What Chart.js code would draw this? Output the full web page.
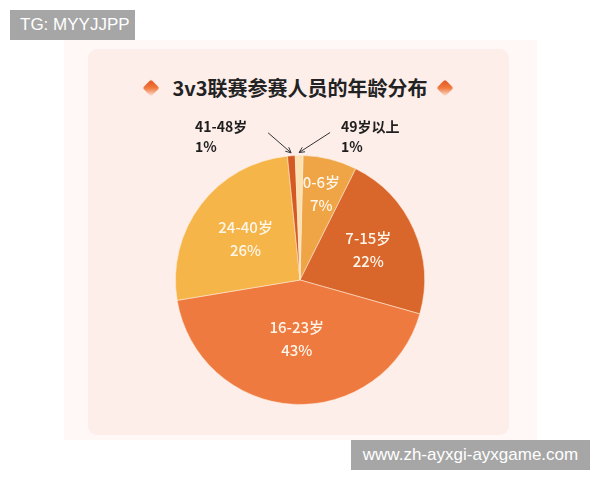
<!DOCTYPE html>
<html>
<head>
<meta charset="utf-8">
<script src="https://cdn.jsdelivr.net/npm/chart.js@4.4.1/dist/chart.umd.min.js"></script>
<style>
  html,body{margin:0;padding:0;background:#fff;width:600px;height:480px;overflow:hidden;font-family:"Noto Sans CJK SC","Noto Sans",sans-serif;}
  #outer{position:absolute;left:64px;top:40px;width:473px;height:400px;background:#fff8f6;}
  #inner{position:absolute;left:88px;top:49px;width:421px;height:386px;background:#fdeeea;border-radius:9px;}
  #title{position:absolute;left:0;top:73px;width:600px;text-align:center;font-size:20px;font-weight:700;color:#222;line-height:30px;}
  .dia{position:absolute;top:82px;width:12px;height:12px;transform:rotate(45deg);border-radius:2px;
       background:linear-gradient(135deg,#e4501a 0%,#f07a3e 50%,rgba(250,170,140,0.15) 100%);filter:blur(0.7px);}
  #c{position:absolute;left:0;top:0;}
  .wm{position:absolute;background:#a6a6a6;color:#fff;font-family:"Liberation Sans","DejaVu Sans",sans-serif;font-size:17px;line-height:30px;}
</style>
</head>
<body>
<div id="outer"></div>
<div id="inner"></div>
<div class="dia" style="left:145px;"></div>
<div class="dia" style="left:439px;"></div>
<div id="title">3v3联赛参赛人员的年龄分布</div>
<canvas id="c" width="600" height="480"></canvas>
<div class="wm" style="left:10px;top:10px;width:125px;height:30px;padding-left:10px;box-sizing:border-box;">TG: MYYJJPP</div>
<div class="wm" style="left:351px;top:440px;width:239px;height:30px;text-align:center;">www.zh-ayxgi-ayxgame.com</div>
<script>
const categories = ['0-6岁', '7-15岁', '16-23岁', '24-40岁', '41-48岁', '49岁以上'];
const values = [7, 22, 43, 26, 1, 1];
const percentLabels = ['7%', '22%', '43%', '26%', '1%', '1%'];
const colors = ['#efa445', '#d9672b', '#ef7a3f', '#f5b548', '#d45a22', '#fbe0b0'];

// inner-label radial placement (fraction of radius); null = outside label
const labelRadius = [0.71, 0.60, 0.47, 0.55, null, null];

const labelPlugin = {
  id: 'labels',
  afterDatasetsDraw(chart) {
    const ctx = chart.ctx;
    const arcs = chart.getDatasetMeta(0).data;
    ctx.save();
    arcs.forEach((arc, i) => {
      const mid = (arc.startAngle + arc.endAngle) / 2;
      if (labelRadius[i] !== null) {
        const r = arc.outerRadius * labelRadius[i];
        const x = arc.x + Math.cos(mid) * r;
        const y = arc.y + Math.sin(mid) * r;
        ctx.fillStyle = '#fff6ea';
        ctx.font = '500 15px "Noto Sans CJK SC", sans-serif';
        ctx.textAlign = 'center';
        ctx.textBaseline = 'middle';
        ctx.fillText(categories[i], x, y - 11.5);
        ctx.fillText(percentLabels[i], x, y + 11.5);
      } else {
        const left = i === 4;
        const tipR = arc.outerRadius + 3;
        const tx = arc.x + Math.cos(mid) * tipR;
        const ty = arc.y + Math.sin(mid) * tipR;
        const sx = left ? tx - 23 : tx + 31;
        const sy = ty - 20;
        ctx.strokeStyle = '#333';
        ctx.lineWidth = 1;
        ctx.beginPath();
        ctx.moveTo(sx, sy);
        ctx.lineTo(tx, ty);
        ctx.stroke();
        const ang = Math.atan2(ty - sy, tx - sx);
        ctx.beginPath();
        ctx.moveTo(tx, ty);
        ctx.lineTo(tx - 6 * Math.cos(ang - 0.45), ty - 6 * Math.sin(ang - 0.45));
        ctx.moveTo(tx, ty);
        ctx.lineTo(tx - 6 * Math.cos(ang + 0.45), ty - 6 * Math.sin(ang + 0.45));
        ctx.stroke();
        ctx.fillStyle = '#1e1e1e';
        ctx.font = '600 14px "Noto Sans CJK SC", sans-serif';
        ctx.textAlign = 'left';
        ctx.textBaseline = 'middle';
        const lx = left ? 195 : 341;
        ctx.fillText(categories[i], lx, 127);
        ctx.fillText(percentLabels[i], lx, 147);
      }
    });
    ctx.restore();
  }
};

new Chart(document.getElementById('c'), {
  type: 'pie',
  data: {
    labels: categories,
    datasets: [{
      data: values,
      backgroundColor: colors,
      borderColor: 'rgba(255,235,215,0.55)',
      borderWidth: 1
    }]
  },
  options: {
    responsive: false,
    animation: false,
    rotation: 1.4,
    layout: { padding: { left: 175, right: 175, top: 155, bottom: 75 } },
    plugins: { legend: { display: false }, tooltip: { enabled: false } }
  },
  plugins: [labelPlugin]
});
</script>
</body>
</html>
